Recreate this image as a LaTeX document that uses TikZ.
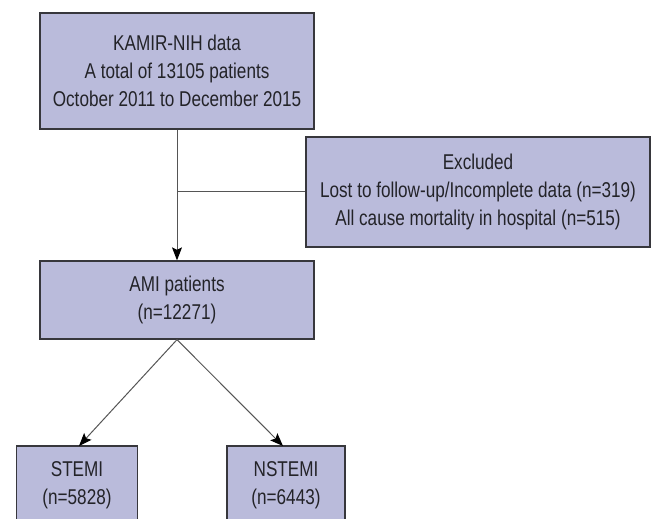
\documentclass[tikz,border=0pt]{standalone}
\usepackage{fontspec}
\setmainfont{Liberation Sans}[FakeStretch=0.8]
\usetikzlibrary{arrows.meta}
\definecolor{boxfill}{RGB}{186,187,219}
\definecolor{boxline}{RGB}{55,55,60}
\definecolor{conn}{RGB}{85,85,85}
\definecolor{txt}{RGB}{35,35,40}
\tikzset{
  flowbox/.style={draw=boxline, fill=boxfill, line width=1.3bp, rectangle, inner sep=0pt,
    align=center, text=txt, font=\fontsize{21.5}{28}\selectfont},
  connline/.style={draw=conn, line width=1bp},
  connarrow/.style={connline, -{Stealth[length=13bp,width=10bp,inset=2.5bp,color=black,fill=black]}}
}
\begin{document}
\begin{tikzpicture}[x=1bp,y=-1bp]
\useasboundingbox (0,0) rectangle (656,519);
\clip (0,0) rectangle (656,519);
\node[flowbox, minimum width=274bp, minimum height=116bp] (top) at (177,71)
  {KAMIR-NIH data\\A total of 13105 patients\\October 2011 to December 2015};
\node[flowbox, minimum width=344bp, minimum height=110bp] (excl) at (478,192)
  {Excluded\\Lost to follow-up/Incomplete data (n=319)\\All cause mortality in hospital (n=515)};
\node[flowbox, minimum width=274bp, minimum height=78bp] (ami) at (177,300)
  {AMI patients\\(n=12271)};
\node[flowbox, minimum width=121bp, minimum height=78bp] (stemi) at (77,485)
  {STEMI\\(n=5828)};
\node[flowbox, minimum width=118bp, minimum height=78bp] (nstemi) at (286,485)
  {NSTEMI\\(n=6443)};
\coordinate (stemitip) at (79,446);
\coordinate (nstemitip) at (283,446);
\draw[connarrow] (top.south) -- (ami.north);
\draw[connline] (top.south |- excl.west) -- (excl.west);
\draw[connarrow] (ami.south) -- (stemitip);
\draw[connarrow] (ami.south) -- (nstemitip);
\end{tikzpicture}
\end{document}
